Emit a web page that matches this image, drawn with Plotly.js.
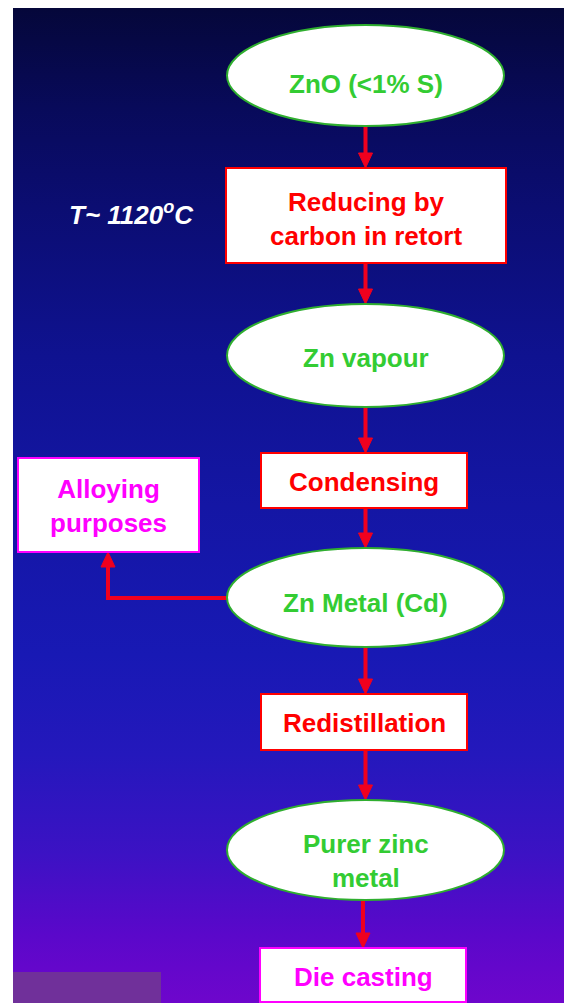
<!DOCTYPE html>
<html>
<head>
<meta charset="utf-8">
<script src="https://cdn.plot.ly/plotly-3.0.1.min.js"></script>
<style>html,body{margin:0;padding:0;background:#fff;}#chart{width:564px;height:1003px;}</style>
</head>
<body>
<div id="chart"></div>
<script>
// ---- Flowchart content (data) ----
const stepLabels = ['ZnO (<1% S)', 'Reducing by<br>carbon in retort', 'Zn vapour', 'Condensing',
                    'Zn Metal (Cd)', 'Redistillation', 'Purer zinc<br>metal', 'Die casting'];
const stepKinds  = ['product', 'process', 'product', 'process', 'product', 'process', 'product', 'final'];
const sideLabels = ['Alloying<br>purposes'];
const sideSource = [4];            // index of step feeding the side box
const noteLabels = ['T~ 1120<sup>o</sup>C'];
const noteStep   = [1];            // step the note belongs to

// ---- Geometry (page pixels, y down) ----
const W = 564, H = 1003;
const colX = 365.5;
const stepBox = [   // [x0, x1, y0, y1]
  [227, 504, 25, 126],
  [226, 506, 168, 263],
  [227, 504, 304, 407],
  [261, 467, 453, 508],
  [227, 504, 548, 647],
  [261, 467, 694, 750],
  [227, 504, 800, 900],
  [260, 466, 948, 1002]
];
const stepTextY = [84, 219, 358, 482, 603, 723, 861, 977];
const sideBox = [[18, 199, 458, 552]];
const sideTextY = [506];
const sideArrowX = [108];
const notePos = [[131, 213]];

const style = {
  product: {fill: '#ffffff', line: '#2fae2f', text: '#33cc33', lw: 2},
  process: {fill: '#ffffff', line: '#ff0000', text: '#ff0000', lw: 2},
  final:   {fill: '#ffffff', line: '#ff00ff', text: '#ff00ff', lw: 2},
  side:    {fill: '#ffffff', line: '#ff00ff', text: '#ff00ff', lw: 2}
};
const arrowColor = '#f0001e';
const FONT = 'Liberation Sans, Arial, Helvetica, sans-serif';
const FS = 26;

const shapes = [];
const annotations = [];

// corner patch
shapes.push({type: 'rect', xref: 'x', yref: 'y', x0: 13, x1: 161, y0: 972, y1: H,
  fillcolor: '#70309a', line: {width: 0}, layer: 'above'});

function arrowHead(tx, ty, dir) { // dir: 'down' or 'up'
  const L = 15, hw = 7;
  const by = dir === 'down' ? ty - L : ty + L;
  return {type: 'path', xref: 'x', yref: 'y',
    path: `M ${tx - hw},${by} L ${tx + hw},${by} L ${tx},${ty} Z`,
    fillcolor: arrowColor, line: {color: arrowColor, width: 1}};
}

// arrows between successive steps
for (let i = 0; i < stepLabels.length - 1; i++) {
  const x = i === stepLabels.length - 2 ? 363 : colX;
  const y0 = stepBox[i][3], y1 = stepBox[i + 1][2];
  shapes.push({type: 'line', xref: 'x', yref: 'y', x0: x, x1: x, y0: y0, y1: y1 - 12,
    line: {color: arrowColor, width: 4}});
  shapes.push(arrowHead(x, y1, 'down'));
}

// side branch connector
sideLabels.forEach((lab, k) => {
  const src = stepBox[sideSource[k]];
  const yMid = (src[2] + src[3]) / 2 + 0.5;
  const ax = sideArrowX[k];
  const top = sideBox[k][3];
  shapes.push({type: 'path', xref: 'x', yref: 'y',
    path: `M ${src[0] + 1},${yMid} L ${ax},${yMid} L ${ax},${top + 12}`,
    line: {color: arrowColor, width: 4}});
  shapes.push(arrowHead(ax, top, 'up'));
});

// nodes
stepLabels.forEach((lab, i) => {
  const b = stepBox[i], s = style[stepKinds[i]];
  shapes.push({type: stepKinds[i] === 'product' ? 'circle' : 'rect', xref: 'x', yref: 'y',
    x0: b[0], x1: b[1], y0: b[2], y1: b[3],
    fillcolor: s.fill, line: {color: s.line, width: s.lw}});
  annotations.push({x: (b[0] + b[1]) / 2, y: stepTextY[i], xref: 'x', yref: 'y',
    text: lab, showarrow: false, xanchor: 'center', yanchor: 'middle',
    font: {family: FONT, size: FS, color: s.text, weight: 700}});
});

sideLabels.forEach((lab, k) => {
  const b = sideBox[k], s = style.side;
  shapes.push({type: 'rect', xref: 'x', yref: 'y', x0: b[0], x1: b[1], y0: b[2], y1: b[3],
    fillcolor: s.fill, line: {color: s.line, width: s.lw}});
  annotations.push({x: (b[0] + b[1]) / 2, y: sideTextY[k], xref: 'x', yref: 'y',
    text: lab, showarrow: false, xanchor: 'center', yanchor: 'middle',
    font: {family: FONT, size: FS, color: s.text, weight: 700}});
});

noteLabels.forEach((lab, k) => {
  annotations.push({x: notePos[k][0], y: notePos[k][1], xref: 'x', yref: 'y',
    text: lab, showarrow: false, xanchor: 'center', yanchor: 'middle',
    font: {family: FONT, size: FS, color: '#ffffff', weight: 700, style: 'italic'}});
});

// background panel with vertical gradient
const bg = {
  type: 'scatter', mode: 'none', hoverinfo: 'skip', showlegend: false,
  x: [13, W, W, 13, 13], y: [8, 8, H, H, 8], fill: 'toself',
  fillgradient: {type: 'vertical', start: 8, stop: H, colorscale: [
    [0, '#05073a'], [0.1, '#080a5a'], [0.2, '#0b0d72'], [0.35, '#0f1290'],
    [0.5, '#1416a4'], [0.65, '#1819b4'], [0.75, '#2418bc'], [0.85, '#3c12c4'],
    [0.93, '#5a08ca'], [1, '#6e06cc']]}
};

const layout = {
  width: W, height: H, margin: {l: 0, r: 0, t: 0, b: 0},
  paper_bgcolor: '#ffffff', plot_bgcolor: 'rgba(0,0,0,0)',
  xaxis: {range: [0, W], visible: false, fixedrange: true},
  yaxis: {range: [H, 0], visible: false, fixedrange: true},
  shapes: shapes, annotations: annotations, showlegend: false
};

Plotly.newPlot('chart', [bg], layout, {staticPlot: true, displayModeBar: false});
</script>
</body>
</html>
